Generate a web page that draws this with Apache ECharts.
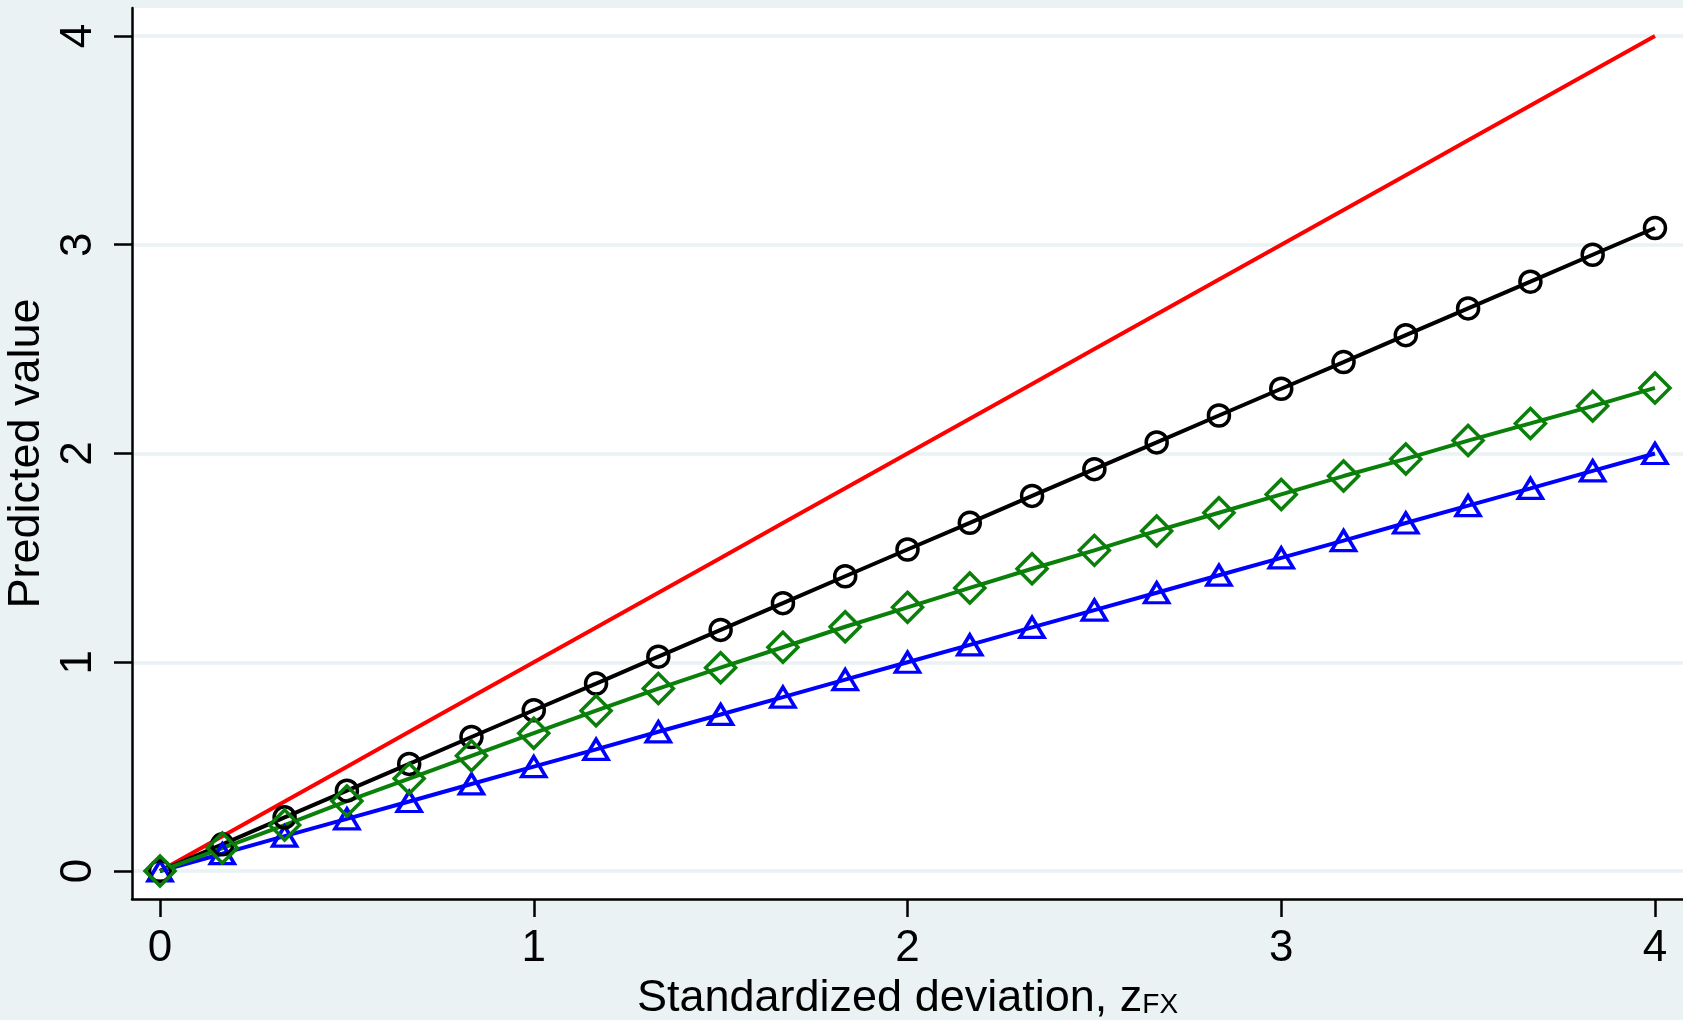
<!DOCTYPE html>
<html>
<head>
<meta charset="utf-8">
<script src="https://cdn.jsdelivr.net/npm/echarts@6/dist/echarts.min.js"></script>
<style>
  html, body { margin: 0; padding: 0; background: #eaf2f3; }
  #main { width: 1683px; height: 1020px; }
</style>
</head>
<body>
<div id="main"></div>
<script>
// z_FX grid
const zValues = [0, 0.1667, 0.3333, 0.5, 0.6667, 0.8333, 1, 1.1667, 1.3333, 1.5, 1.6667, 1.8333,
  2, 2.1667, 2.3333, 2.5, 2.6667, 2.8333, 3, 3.1667, 3.3333, 3.5, 3.6667, 3.8333, 4];
// red reference line
const redValues = [0, 0.1667, 0.3333, 0.5, 0.6667, 0.8333, 1, 1.1667, 1.3333, 1.5, 1.6667, 1.8333,
  2, 2.1667, 2.3333, 2.5, 2.6667, 2.8333, 3, 3.1667, 3.3333, 3.5, 3.6667, 3.8333, 4];
// black circles
const blackValues = [0, 0.128, 0.257, 0.385, 0.513, 0.642, 0.77, 0.898, 1.027, 1.155, 1.283, 1.412,
  1.54, 1.668, 1.797, 1.925, 2.053, 2.182, 2.31, 2.438, 2.567, 2.695, 2.823, 2.952, 3.08];
// green diamonds
const greenValues = [0, 0.11, 0.22, 0.335, 0.443, 0.552, 0.66, 0.768, 0.874, 0.974, 1.072, 1.17,
  1.263, 1.356, 1.448, 1.536, 1.629, 1.716, 1.804, 1.892, 1.974, 2.062, 2.144, 2.227, 2.314];
// blue triangles
const blueValues = [0, 0.083, 0.167, 0.25, 0.333, 0.417, 0.5, 0.583, 0.667, 0.75, 0.833, 0.917,
  1, 1.083, 1.167, 1.25, 1.333, 1.417, 1.5, 1.583, 1.667, 1.75, 1.833, 1.917, 2];
const xTicks = [0, 1, 2, 3, 4];
const yTicks = [0, 1, 2, 3, 4];

const font = "'Liberation Sans', Arial, sans-serif";
const pairs = (ys) => zValues.map((x, i) => [x, ys[i]]);

const chart = echarts.init(document.getElementById('main'));

const option = {
  backgroundColor: '#eaf2f3',
  animation: false,
  textStyle: { fontFamily: font, color: '#000' },
  grid: {
    left: 132, right: 0, top: 8, bottom: 121,
    outerBoundsMode: 'none',
    show: true, backgroundColor: '#ffffff', borderWidth: 0
  },
  xAxis: {
    type: 'value',
    min: -0.075, max: 4.075,
    name: 'Standardized deviation, z{sub|FX}',
    nameLocation: 'middle',
    nameGap: 69,
    nameTextStyle: {
      fontSize: 45, color: '#000', fontFamily: font,
      rich: { sub: { fontSize: 28, color: '#000', fontFamily: font, padding: [14, 0, 0, 0] } }
    },
    axisLine: { onZero: false, lineStyle: { color: '#000', width: 2.5 } },
    axisTick: { length: 18, lineStyle: { color: '#000', width: 2.5 }, customValues: xTicks },
    axisLabel: { customValues: xTicks, fontSize: 44, color: '#000', margin: 28, fontFamily: font },
    splitLine: { show: false }
  },
  yAxis: {
    type: 'value',
    min: -0.134, max: 4.134,
    name: 'Predicted value',
    nameLocation: 'middle',
    nameRotate: 90,
    nameGap: 74,
    nameTextStyle: { fontSize: 45, color: '#000', fontFamily: font },
    axisLine: { show: true, onZero: false, lineStyle: { color: '#000', width: 2.5 } },
    axisTick: { length: 18, lineStyle: { color: '#000', width: 2.5 }, customValues: yTicks },
    axisLabel: {
      customValues: yTicks, fontSize: 44, color: '#000', rotate: 90,
      align: 'center', verticalAlign: 'bottom', margin: 31, fontFamily: font
    },
    splitLine: { show: true, lineStyle: { color: '#eaf2f3', width: 3.5 } }
  },
  series: [
    {
      name: 'red', type: 'line', data: pairs(redValues),
      showSymbol: false, lineStyle: { color: '#ff0000', width: 4 },
      itemStyle: { color: '#ff0000' }, emphasis: { disabled: true }
    },
    {
      name: 'blue', type: 'line', data: pairs(blueValues),
      symbol: 'triangle', symbolSize: [24, 20],
      lineStyle: { color: '#0000ff', width: 4 },
      itemStyle: { color: 'rgba(0,0,0,0)', borderColor: '#0000ff', borderWidth: 3.5 },
      emphasis: { disabled: true }
    },
    {
      name: 'black', type: 'line', data: pairs(blackValues),
      symbol: 'circle', symbolSize: 21,
      lineStyle: { color: '#000000', width: 4 },
      itemStyle: { color: 'rgba(0,0,0,0)', borderColor: '#000000', borderWidth: 3.5 },
      emphasis: { disabled: true }
    },
    {
      name: 'green', type: 'line', data: pairs(greenValues),
      symbol: 'diamond', symbolSize: 30,
      lineStyle: { color: '#0a800a', width: 4 },
      itemStyle: { color: 'rgba(0,0,0,0)', borderColor: '#0a800a', borderWidth: 3.5 },
      emphasis: { disabled: true }
    }
  ]
};

chart.setOption(option);
</script>
</body>
</html>
